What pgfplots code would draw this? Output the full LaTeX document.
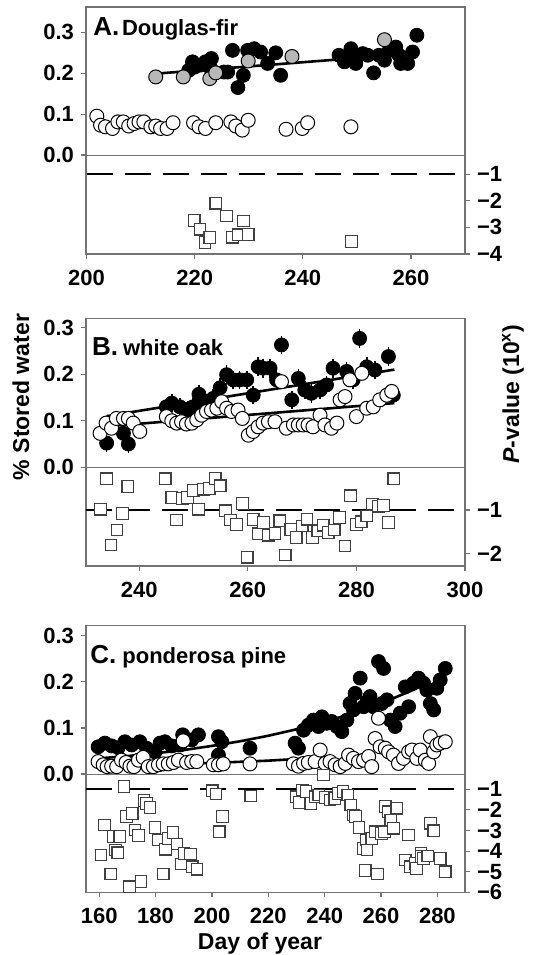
\documentclass[border=0pt]{standalone}
\usepackage{fontspec}
\setmainfont{Liberation Sans}
\usepackage{pgfplots}
\pgfplotsset{compat=1.18}
\definecolor{axgray}{gray}{0.45}
\pgfplotsset{
  base/.style={scale only axis, width=189.5pt, anchor=north west,
    axis line style={axgray, line width=0.6pt},
    tick style={axgray, line width=0.6pt},
    tick align=outside, major tick length=2.5pt,
    ticklabel style={font=\fontsize{11}{12}\bfseries\selectfont},
    xticklabel style={yshift=-2pt},
    /pgf/number format/assume math mode=true,
    xticklabel={\pgfmathprintnumber[fixed, precision=0]{\tick}},
    scaled ticks=false},
  wleft/.style={base, ytick pos=left, xtick pos=bottom,
    ytick={0,0.1,0.2,0.3}, yticklabels={0.0,0.1,0.2,0.3}},
  wright/.style={base, hide x axis, axis y line*=right, ytick pos=right, yticklabel pos=right},
  bk/.style={only marks, mark=*, mark size=3.5pt, mark options={fill=black, draw=black, line width=0.4pt}},
  op/.style={only marks, mark=*, mark size=3.5pt, mark options={fill=white, draw=black, line width=0.5pt}},
  gy/.style={only marks, mark=*, mark size=3.5pt, mark options={fill=black!28, draw=black, line width=0.5pt}},
  sq/.style={only marks, mark=square*, mark size=2.9pt, mark options={fill=white, draw=black!75, line width=0.6pt}},
  fit/.style={black, line width=1.3pt, no marks},
  zero/.style={axgray, line width=0.5pt, no marks},
  pdash/.style={black, line width=0.9pt, dash pattern=on 13pt off 6pt, no marks},
  ebar/.style={error bars/.cd, y dir=both, y fixed=#1, error mark=none,
    error bar style={black, line width=0.8pt}},
}
\begin{document}
\begin{tikzpicture}
\useasboundingbox (0,0) rectangle (273pt,-477.5pt);

% ---------- A. Douglas-fir ----------
\begin{axis}[wleft, at={(43pt,-3.5pt)}, height=123.5pt,
  xmin=199.9, xmax=270, ymin=-0.242, ymax=0.362,
  xtick={200,220,240,260}]
\addplot[zero] coordinates {(200,0)(270,0)};
\addplot[op] coordinates {(201.9,0.095)(202.6,0.073)(203.5,0.069)(204.8,0.065)(205.8,0.081)(206.8,0.081)(207.8,0.071)(208.8,0.077)(209.7,0.081)(210.6,0.081)(211.9,0.069)(212.8,0.071)(213.7,0.065)(214.9,0.065)(216.0,0.079)(219.8,0.079)(220.8,0.069)(222.0,0.065)(223.9,0.079)(226.7,0.081)(227.6,0.071)(228.8,0.061)(229.9,0.085)(236.9,0.063)(239.9,0.065)(240.9,0.079)(248.9,0.069)};
\addplot[bk] coordinates {(218.9,0.207)(219.6,0.228)(220.0,0.215)(221.1,0.220)(222.0,0.228)(223.1,0.236)(223.0,0.211)(225.4,0.203)(226.1,0.203)(227.0,0.256)(228.0,0.165)(229.0,0.195)(229.8,0.256)(231.0,0.260)(232.2,0.252)(233.5,0.224)(235.0,0.250)(235.9,0.195)(246.7,0.244)(247.7,0.228)(248.3,0.240)(248.9,0.260)(249.8,0.224)(250.2,0.244)(251.1,0.248)(252.0,0.244)(253.1,0.201)(254.1,0.244)(255.1,0.232)(256.0,0.256)(257.2,0.264)(257.8,0.244)(258.1,0.224)(259.4,0.224)(260.3,0.252)(261.1,0.293)};
\addplot[fit] coordinates {(212.8,0.199)(259.5,0.247)};
\addplot[gy] coordinates {(212.8,0.191)(217.9,0.191)(222.8,0.187)(223.9,0.201)(229.9,0.230)(238.0,0.241)(255.1,0.282)};
\end{axis}
\begin{axis}[wright, at={(43pt,-3.5pt)}, height=123.5pt,
  xmin=199.9, xmax=270, ymin=-4, ymax=5.30,
  ytick={-1,-2,-3,-4}, yticklabels={−1,−2,−3,−4}]
\addplot[sq] coordinates {(219.9,-2.74)(221.0,-3.07)(221.9,-3.57)(222.8,-3.38)(223.9,-2.09)(225.9,-2.57)(227.0,-3.37)(228.0,-3.28)(229.0,-2.76)(229.9,-3.26)(249.0,-3.53)};
\addplot[pdash] coordinates {(200,-1)(270,-1)};
\end{axis}

% ---------- B. white oak ----------
\begin{axis}[wleft, at={(43pt,-159.15pt)}, height=123.85pt,
  xmin=230.2, xmax=300, ymin=-0.2121, ymax=0.3202,
  xtick={240,260,280,300}]
\addplot[zero] coordinates {(230.2,0)(300,0)};
\addplot[bk, ebar=0.02] coordinates {(234.0,0.052)(238.0,0.050)(237.1,0.073)(245.0,0.130)(246.0,0.138)(247.5,0.130)(249.0,0.123)(249.9,0.130)(251.0,0.157)(252.4,0.138)(253.6,0.148)(254.9,0.171)(256.1,0.199)(257.3,0.188)(258.5,0.188)(259.8,0.188)(261.0,0.155)(261.9,0.216)(262.8,0.213)(264.1,0.213)(265.3,0.188)(266.2,0.263)(268.1,0.145)(269.3,0.191)(270.5,0.166)(271.7,0.159)(273.3,0.166)(274.5,0.177)(275.7,0.213)(278.2,0.206)(279.4,0.188)(280.6,0.277)(281.9,0.216)(283.4,0.209)(285.9,0.238)(286.8,0.155)};
\addplot[op, ebar=0.015] coordinates {(232.8,0.073)(233.9,0.095)(234.9,0.084)(235.8,0.105)(237.1,0.105)(238.0,0.105)(238.9,0.095)(240.1,0.077)(245.0,0.109)(246.0,0.100)(246.9,0.095)(247.8,0.098)(248.7,0.093)(249.7,0.095)(250.6,0.102)(251.5,0.112)(252.4,0.120)(253.3,0.123)(254.3,0.127)(255.2,0.141)(256.1,0.127)(257.0,0.120)(258.2,0.123)(259.0,0.105)(260.1,0.069)(261.0,0.077)(261.9,0.087)(262.8,0.095)(263.8,0.098)(265.0,0.098)(266.2,0.184)(267.1,0.084)(268.4,0.091)(269.3,0.091)(270.2,0.091)(271.1,0.091)(272.0,0.087)(273.3,0.112)(274.2,0.091)(275.4,0.084)(276.4,0.095)(277.0,0.145)(277.9,0.152)(278.8,0.188)(280.0,0.109)(281.0,0.202)(281.9,0.127)(283.1,0.130)(284.3,0.145)(285.6,0.155)(286.5,0.163)};
\addplot[fit] coordinates {(234,0.110)(287,0.210)};
\addplot[fit] coordinates {(234,0.088)(287,0.138)};
\end{axis}
\begin{axis}[wright, at={(43pt,-159.15pt)}, height=123.85pt,
  xmin=230.2, xmax=300, ymin=-2.293, ymax=3.427,
  ytick={-1,-2}, yticklabels={−1,−2}]
\addplot[sq] coordinates {(232.9,-0.98)(234.0,-0.28)(234.8,-1.81)(235.9,-1.46)(236.9,-1.08)(237.9,-0.46)(244.8,-0.28)(246.0,-0.71)(246.9,-1.23)(247.9,-0.73)(248.9,-0.71)(250.0,-0.55)(250.9,-0.98)(251.8,-0.52)(252.9,-0.50)(254.0,-0.27)(254.9,-0.44)(255.9,-1.02)(256.8,-1.23)(257.9,-1.33)(259.0,-0.85)(259.9,-2.09)(261.0,-1.22)(261.9,-1.55)(262.9,-1.29)(263.8,-1.58)(265.0,-1.54)(265.9,-1.25)(266.9,-2.04)(267.9,-1.45)(268.9,-1.63)(270.0,-1.37)(270.9,-1.21)(271.9,-1.63)(272.9,-1.48)(273.9,-1.35)(274.8,-1.52)(275.9,-1.46)(276.9,-1.17)(277.9,-1.83)(278.9,-0.67)(280.0,-1.33)(280.9,-1.27)(281.9,-1.14)(282.9,-0.86)(284.0,-0.91)(285.0,-0.90)(285.9,-1.29)(286.9,-0.28)};
\addplot[pdash] coordinates {(230.2,-1)(300,-1)};
\end{axis}

% ---------- C. ponderosa pine ----------
\begin{axis}[wleft, at={(43pt,-312.85pt)}, height=133.3pt,
  xmin=155.3, xmax=289.8, ymin=-0.2566, ymax=0.3217,
  xtick={160,180,200,220,240,260,280}]
\addplot[zero] coordinates {(155.3,0)(289.8,0)};
\addplot[bk, ebar=0.012] coordinates {(159.6,0.059)(162.0,0.067)(164.4,0.061)(166.7,0.057)(169.1,0.070)(171.5,0.063)(174.4,0.070)(176.8,0.056)(179.8,0.048)(181.6,0.067)(183.3,0.070)(185.7,0.061)(188.7,0.063)(189.6,0.085)(192.8,0.074)(195.2,0.085)(202.3,0.081)(203.5,0.070)(202.3,0.041)(213.5,0.056)(229.5,0.067)(230.7,0.056)(232.5,0.095)(234.2,0.106)(236.0,0.117)(237.8,0.103)(239.0,0.124)(240.8,0.110)(242.5,0.114)(244.3,0.103)(246.1,0.092)(247.9,0.117)(249.0,0.153)(250.2,0.139)(250.8,0.175)(252.6,0.208)(253.8,0.146)(255.0,0.157)(256.1,0.168)(257.3,0.146)(259.1,0.244)(260.3,0.153)(260.9,0.229)(262.1,0.161)(263.3,0.117)(265.0,0.103)(266.8,0.132)(268.6,0.189)(269.8,0.146)(271.5,0.197)(273.3,0.208)(275.1,0.197)(276.3,0.182)(277.5,0.153)(278.7,0.139)(279.8,0.186)(281.0,0.204)(282.8,0.229)};
\addplot[fit] coordinates {(160,0.034)(170,0.039)(180,0.045)(190,0.052)(200,0.061)(210,0.071)(220,0.083)(230,0.097)(240,0.113)(250,0.132)(260,0.153)(272,0.184)};
\addplot[fit] coordinates {(160,0.018)(180,0.021)(200,0.024)(220,0.029)(240,0.036)};
\addplot[op] coordinates {(159.6,0.027)(161.4,0.020)(162.8,0.016)(164.4,0.017)(166.2,0.016)(167.9,0.030)(169.5,0.025)(170.9,0.017)(172.3,0.016)(173.9,0.030)(175.6,0.036)(177.4,0.016)(179.2,0.016)(181.0,0.020)(182.7,0.022)(184.5,0.022)(186.3,0.025)(188.1,0.030)(189.8,0.072)(191.0,0.025)(192.8,0.027)(194.6,0.027)(200.5,0.020)(202.3,0.020)(204.0,0.022)(213.5,0.022)(228.9,0.022)(230.7,0.017)(232.5,0.023)(234.2,0.025)(236.6,0.027)(238.4,0.052)(240.2,0.023)(241.9,0.027)(243.7,0.020)(245.5,0.016)(247.3,0.023)(248.5,0.041)(250.2,0.034)(252.0,0.027)(253.8,0.030)(255.6,0.038)(256.7,0.016)(257.9,0.077)(259.1,0.121)(259.7,0.059)(261.5,0.056)(262.7,0.048)(264.4,0.041)(266.2,0.023)(268.0,0.034)(269.8,0.048)(271.0,0.052)(272.7,0.034)(273.9,0.052)(275.7,0.030)(276.9,0.023)(277.5,0.081)(278.7,0.048)(279.8,0.063)(281.0,0.067)(282.8,0.070)};
\end{axis}
\begin{axis}[wright, at={(43pt,-312.85pt)}, height=133.3pt,
  xmin=155.3, xmax=289.8, ymin=-6, ymax=6.94,
  ytick={-1,-2,-3,-4,-5,-6}, yticklabels={−1,−2,−3,−4,−5,−6}]
\addplot[sq] coordinates {(160.6,-4.19)(161.8,-2.73)(164.1,-5.11)(165.0,-3.30)(165.7,-3.95)(166.6,-4.08)(167.3,-3.30)(168.8,-0.87)(169.7,-2.33)(170.7,-5.73)(171.7,-2.17)(172.7,-2.98)(173.9,-3.25)(174.8,-5.48)(175.9,-1.55)(176.8,-1.68)(178.0,-1.88)(179.8,-2.85)(181.0,-3.46)(182.7,-5.11)(183.5,-3.91)(184.5,-3.38)(186.2,-3.10)(187.6,-3.66)(189.0,-4.63)(190.1,-4.11)(192.4,-4.14)(193.0,-4.76)(194.7,-4.88)(200.1,-1.07)(201.4,-1.23)(202.6,-3.06)(203.8,-2.33)(213.8,-1.33)(230.0,-1.36)(231.1,-1.65)(232.2,-1.03)(233.4,-1.11)(235.1,-1.68)(236.8,-1.36)(237.9,-1.28)(239.6,-0.31)(240.2,-1.39)(241.9,-1.52)(243.6,-1.44)(244.8,-1.20)(246.5,-1.11)(248.2,-1.28)(249.3,-1.76)(250.2,-2.25)(251.0,-2.33)(252.2,-2.85)(253.8,-3.87)(254.7,-3.46)(255.0,-3.95)(256.7,-3.38)(257.9,-3.06)(260.1,-3.14)(261.3,-3.06)(261.5,-1.84)(262.7,-2.09)(263.5,-2.49)(264.4,-2.89)(265.6,-1.92)(269.8,-3.22)(254.4,-4.95)(258.8,-5.11)(268.6,-4.43)(270.4,-4.76)(272.1,-4.59)(272.6,-4.84)(274.2,-4.11)(274.3,-4.27)(275.1,-4.35)(276.6,-4.24)(277.5,-2.65)(278.7,-3.01)(281.0,-4.35)(282.8,-5.00)};
\addplot[pdash] coordinates {(155.3,-1)(289.8,-1)};
\end{axis}

% ---------- panel titles and axis titles ----------
\node[anchor=base west, inner sep=0] at (46.5pt,-17.5pt)
  {\fontsize{13}{14}\bfseries\selectfont A.\kern1.3pt\fontsize{11}{12}\selectfont Douglas-fir};
\node[anchor=base west, inner sep=0] at (45.8pt,-177.5pt)
  {\fontsize{13}{14}\bfseries\selectfont B.\kern2.5pt\fontsize{11}{12}\selectfont white oak};
\node[anchor=base west, inner sep=0] at (45pt,-331.7pt)
  {\fontsize{13}{14}\bfseries\selectfont C.\kern3pt\fontsize{11}{12}\selectfont ponderosa pine};
\node[rotate=90, inner sep=0] at (10.5pt,-198.5pt)
  {\fontsize{11.5}{13}\bfseries\selectfont \% Stored water};
\node[rotate=90, inner sep=0] at (256.5pt,-197pt)
  {\fontsize{11.5}{13}\bfseries\selectfont \textit{P}-value (10\textsuperscript{x})};
\node[anchor=base, inner sep=0] at (130pt,-474.5pt)
  {\fontsize{11.5}{13}\bfseries\selectfont Day of year};
\end{tikzpicture}
\end{document}
